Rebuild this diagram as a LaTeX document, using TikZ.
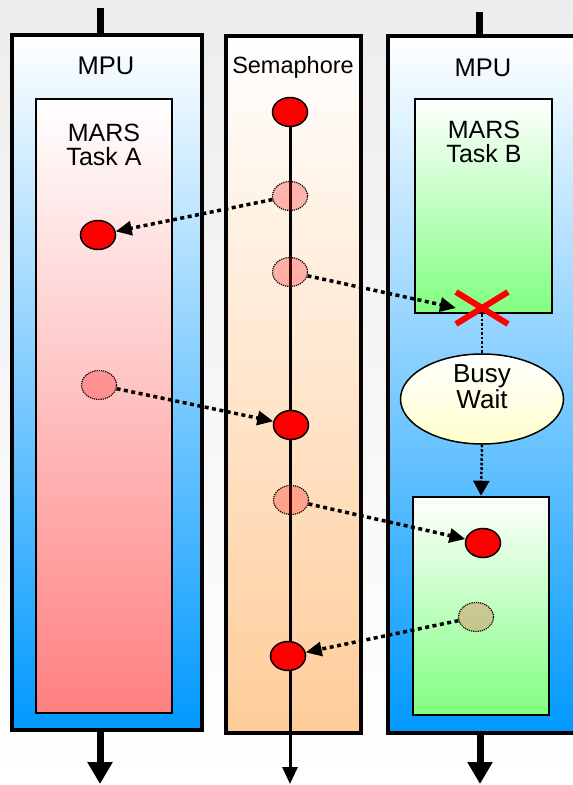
\documentclass[tikz,border=0pt]{standalone}
\usepackage{fontspec}
\setmainfont{Liberation Sans}
\usetikzlibrary{arrows.meta,shapes.geometric,shapes.misc}
\definecolor{mpuBlue}{HTML}{0099FF}
\definecolor{taskRed}{HTML}{FF8080}
\definecolor{taskGreen}{HTML}{80FF80}
\definecolor{semPeach}{HTML}{FFCC99}
\definecolor{waitYellow}{HTML}{FFFFCC}
\begin{document}
\begin{tikzpicture}[x=1pt,y=-1pt]
\tikzset{
    syncMpu/.style={rectangle,draw=black,line width=4pt,top color=white,bottom color=mpuBlue,inner sep=0pt},
    syncSem/.style={rectangle,draw=black,line width=4pt,top color=white,bottom color=semPeach,inner sep=0pt},
    syncTask/.style={rectangle,draw=black,line width=2.5pt,top color=white,inner sep=0pt},
    syncLabel/.style={anchor=base,inner sep=0pt,font=\fontsize{25.5}{25}\selectfont},
    syncTitle/.style={align=center,inner sep=0pt,font=\fontsize{25}{24.5}\selectfont},
    syncTok/.style={ellipse,draw=black,line width=1.5pt,fill=red,minimum width=35pt,minimum height=29pt,inner sep=0pt},
    syncGhost/.style={ellipse,draw=black,line width=1.2pt,densely dotted,fill=red,fill opacity=.26,minimum width=35pt,minimum height=29pt,inner sep=0pt},
    syncLink/.style={line width=3.5pt,dash pattern=on 4pt off 3.5pt,-{Triangle[length=16pt,width=14pt]}},
    syncWait/.style={line width=2.5pt,dash pattern=on 2.5pt off 2pt},
    syncFlow/.style={line width=7pt,-{Triangle[length=22pt,width=24pt]}},
    syncTrack/.style={line width=3pt,-{Triangle[length=17pt,width=15pt]}},
}
\useasboundingbox (0,0) rectangle (573,785);
\clip (0,0) rectangle (573,785);
\shade[top color=black!7,bottom color=white] (0,0) rectangle (573,785);

\node[syncMpu,minimum width=190pt,minimum height=695pt] (mpuA) at (107,382.5) {};
\node[syncSem,minimum width=135pt,minimum height=697pt] (sem) at (293.5,384.5) {};
\node[syncMpu,minimum width=212pt,minimum height=697pt] (mpuB) at (494,384.5) {};

\node[syncTask,bottom color=taskRed,minimum width=136pt,minimum height=614pt] (taskA) at (104,406) {};
\node[syncTask,bottom color=taskGreen,minimum width=137pt,minimum height=214pt] (taskB1) at (483.5,206) {};
\node[syncTask,bottom color=taskGreen,minimum width=136pt,minimum height=218pt] (taskB2) at (481,606) {};
\node[ellipse,draw=black,line width=1.5pt,top color=white,bottom color=waitYellow,minimum width=163pt,minimum height=90pt] (busy) at (482,399) {};

\node[syncLabel] (mpuAlbl) at (106,74) {MPU};
\node[syncLabel] (mpuBlbl) at (483,76) {MPU};
\node[syncLabel,font=\fontsize{23.5}{24}\selectfont] (semLbl) at (293,73) {Semaphore};
\node[syncTitle] (taskAlbl) at (104,145) {MARS\\Task A};
\node[syncTitle] (taskBlbl) at (484,142) {MARS\\Task B};
\node[syncTitle,font=\fontsize{26}{26}\selectfont] (busyLbl) at (482,387) {Busy\\Wait};

\coordinate (mpuAtop) at (100,8);
\coordinate (mpuBtop) at (479,12);
\coordinate (mpuAend) at (100,784);
\coordinate (semEnd) at (290,784);
\coordinate (mpuBend) at (480,784);
\draw[line width=7pt] (mpuAtop) -- (mpuAtop |- mpuA.north);
\draw[line width=7pt] (mpuBtop) -- (mpuBtop |- mpuB.north);
\draw[syncFlow] (mpuAend |- mpuA.south) -- (mpuAend);
\draw[syncFlow] (mpuBend |- mpuB.south) -- (mpuBend);

\node[syncTok] (semTop) at (290,112) {};
\draw[syncTrack] (semTop) -- (semEnd);
\node[syncGhost] (semGhostA) at (290,196) {};
\node[syncGhost] (semGhostB) at (290,272) {};
\node[syncTok] (semMid) at (291,425) {};
\node[syncGhost] (semGhostC) at (291,500) {};
\node[syncTok] (semLow) at (288,656) {};
\node[syncTok] (taskAtok) at (98,235) {};
\node[syncGhost] (taskAghost) at (99,385) {};
\node[syncTok] (taskBtok) at (483,543) {};
\node[syncGhost,fill opacity=.22] (taskBghost) at (476,617) {};

\draw[syncWait] (taskB1.south -| busy.north) -- (busy.north);
\draw[syncWait,-{Triangle[length=15pt,width=16pt]}] (busy.south) -- (taskB2.north);

\node[cross out,draw=red,line width=6pt,minimum width=46pt,minimum height=26pt,inner sep=0pt] (stall) at (482,308) {};

\draw[syncLink] (semGhostA) -- (taskAtok);
\draw[syncLink] (semGhostB) -- (stall.west);
\draw[syncLink] (taskAghost) -- (semMid);
\draw[syncLink] (semGhostC) -- (taskBtok);
\draw[syncLink] (taskBghost) -- (semLow);
\end{tikzpicture}
\end{document}
